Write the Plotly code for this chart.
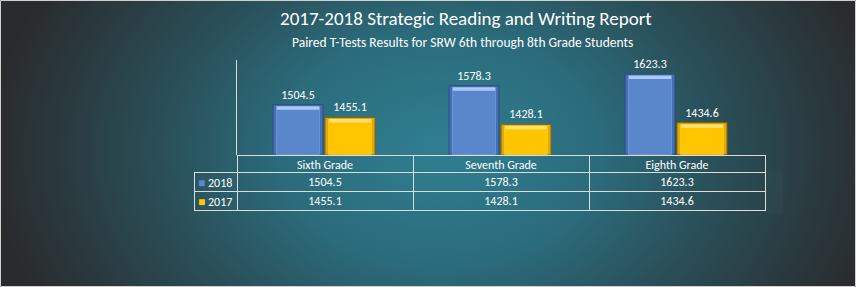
import base64
import plotly.graph_objects as go

# ---- data ----
categories = ["Sixth Grade", "Seventh Grade", "Eighth Grade"]
series_names = ["2018", "2017"]
values_2018 = [1504.5, 1578.3, 1623.3]
values_2017 = [1455.1, 1428.1, 1434.6]
title_text = "2017-2018 Strategic Reading and Writing Report"
subtitle_text = "Paired T-Tests Results for SRW 6th through 8th Grade Students"

# ---- styling ----
W, H = 856, 287
FONT = "Calibri, Carlito, Lato, 'Open Sans', sans-serif"
GRID = "#dcdcdc"
NBSP = "\u00a0"
Y_RANGE = [1311, 1678]
PLOT_X = (237, 765)   # pixel extents of the plot area
PLOT_Y = (60, 154.5)
CAT_PX = (PLOT_X[1] - PLOT_X[0]) / len(categories)
UNITS_PER_PX = (Y_RANGE[1] - Y_RANGE[0]) / (PLOT_Y[1] - PLOT_Y[0])

styles = {
    "2018": dict(body="#5a87cc", side="#4670b4", top="#a9cbf3", edge="#2d4a7e", off=-52),
    "2017": dict(body="#ffc600", side="#e2aa00", top="#ffe070", edge="#876600", off=0),
}
BAR_PX = 50


def px_x(p):
    return p / W


def px_y(p):
    return 1 - p / H


svg = f"""<svg xmlns='http://www.w3.org/2000/svg' width='{W}' height='{H}' viewBox='0 0 {W} {H}' preserveAspectRatio='none'>
<defs><radialGradient id='g' gradientUnits='userSpaceOnUse' cx='0' cy='0' r='1' gradientTransform='translate(440 150) scale(450 330)'>
<stop offset='0' stop-color='#2f7f91'/><stop offset='0.35' stop-color='#2b6c7c'/>
<stop offset='0.62' stop-color='#2a4f58'/><stop offset='1' stop-color='#2a2b2d'/></radialGradient></defs>
<rect x='0' y='0' width='{W}' height='{H}' fill='url(#g)'/></svg>"""
bg_uri = "data:image/svg+xml;base64," + base64.b64encode(svg.encode()).decode()

fig = go.Figure()

series = [(series_names[0], values_2018), (series_names[1], values_2017)]
for name, vals in series:
    st = styles[name]
    off = st["off"] / CAT_PX
    wid = BAR_PX / CAT_PX
    inset = 3.5 / CAT_PX
    # bevelled bar: outer frame, light top bevel, body
    layers = [
        (vals, off, wid, st["side"], dict(color=st["edge"], width=1)),
        ([v - 1.5 * UNITS_PER_PX for v in vals], off + inset, wid - 2 * inset, st["top"], dict(width=0)),
        ([v - 5 * UNITS_PER_PX for v in vals], off + inset, wid - 2 * inset, st["body"], dict(width=0)),
    ]
    for yv, o, w_, colr, line in layers:
        fig.add_trace(
            go.Bar(
                x=categories, y=yv, offset=o, width=w_,
                marker=dict(color=colr, line=line),
                showlegend=False, hoverinfo="skip",
            )
        )
    # value labels
    fig.add_trace(
        go.Bar(
            x=categories, y=vals, offset=off, width=wid, name=name,
            marker=dict(color="rgba(0,0,0,0)", line=dict(width=0)),
            text=[f"{v:.1f}" for v in vals],
            textposition="outside",
            textfont=dict(color="white", size=12, family=FONT),
            cliponaxis=False, showlegend=False,
        )
    )

# data table below chart: borders and texts as two aligned tables
cols = [["" for _ in series_names]] + [[f"{a:.1f}", f"{b:.1f}"] for a, b in zip(values_2018, values_2017)]
header_vals = [""] + [c.replace(" ", NBSP) for c in categories]
empty_cols = [["" for _ in c] for c in cols]
CLEAR = "rgba(0,0,0,0)"

fig.add_trace(  # grid
    go.Table(
        domain=dict(x=[px_x(194), px_x(765)], y=[px_y(214), px_y(155.5)]),
        columnwidth=[43, 176, 176, 176],
        header=dict(
            values=[""] * len(header_vals),
            fill=dict(color=CLEAR),
            line=dict(color=[CLEAR, GRID, GRID, GRID], width=1),
            height=17,
        ),
        cells=dict(
            values=empty_cols,
            fill=dict(color=CLEAR),
            line=dict(color=GRID, width=1),
            height=19,
        ),
    )
)
fig.add_trace(  # texts
    go.Table(
        domain=dict(x=[px_x(194), px_x(765)], y=[px_y(214), px_y(151.5)]),
        columnwidth=[43, 176, 176, 176],
        header=dict(
            values=header_vals,
            fill=dict(color=CLEAR),
            line=dict(color=CLEAR, width=0),
            font=dict(color="white", size=12, family=FONT),
            align="center",
            height=17,
        ),
        cells=dict(
            values=cols,
            fill=dict(color=CLEAR),
            line=dict(color=CLEAR, width=0),
            font=dict(color="white", size=12, family=FONT),
            align=["left", "center", "center", "center"],
            height=19,
        ),
    )
)

# series keys (icon + name) in the table's first column
key_annotations = []
for i, (name, vals) in enumerate(series):
    key_annotations.append(
        dict(
            text=f"<span style='color:{styles[name]['body']};font-size:12px'>■</span> {name}",
            xref="paper", yref="paper",
            x=px_x(196), y=px_y(183 + 19 * i),
            showarrow=False,
            font=dict(size=12, color="white", family=FONT),
            xanchor="left", yanchor="middle",
        )
    )

fig.update_layout(
    width=W,
    height=H,
    margin=dict(l=0, r=0, t=0, b=0),
    paper_bgcolor="#2a2b2d",
    plot_bgcolor="rgba(0,0,0,0)",
    barmode="overlay",
    font=dict(family=FONT, color="white"),
    xaxis=dict(
        domain=[px_x(PLOT_X[0]), px_x(PLOT_X[1])],
        showticklabels=False, showgrid=False, zeroline=False, showline=False, ticks="",
    ),
    yaxis=dict(
        domain=[px_y(PLOT_Y[1]), px_y(PLOT_Y[0])],
        range=Y_RANGE,
        showticklabels=False, showgrid=False, zeroline=False,
        showline=True, linecolor=GRID, linewidth=1, ticks="",
    ),
    images=[
        dict(
            source=bg_uri, xref="paper", yref="paper",
            x=0, y=1, sizex=1, sizey=1, sizing="stretch",
            xanchor="left", yanchor="top", layer="below",
        )
    ],
    annotations=[
        dict(
            text=title_text, xref="paper", yref="paper",
            x=px_x(466), y=px_y(18), showarrow=False,
            font=dict(size=19, color="white", family=FONT),
            xanchor="center", yanchor="middle",
        ),
        dict(
            text=subtitle_text, xref="paper", yref="paper",
            x=px_x(462), y=px_y(42), showarrow=False,
            font=dict(size=13.5, color="white", family=FONT),
            xanchor="center", yanchor="middle",
        ),
    ]
    + key_annotations,
    shapes=[
        dict(
            type="rect", xref="paper", yref="paper",
            x0=px_x(0.5), x1=px_x(855.5), y0=px_y(286.5), y1=px_y(0.5),
            line=dict(color="#d0d0d0", width=1),
            fillcolor="rgba(0,0,0,0)", layer="above",
        )
    ],
)

fig.write_html("out.html")
